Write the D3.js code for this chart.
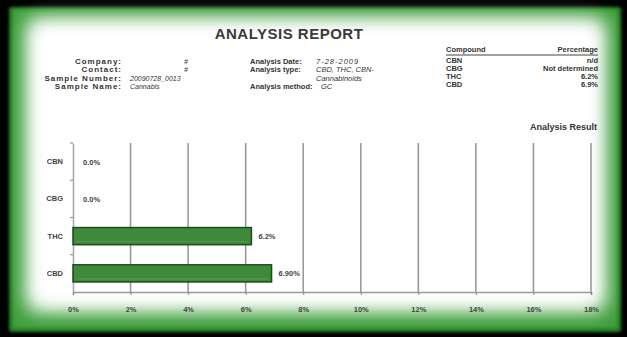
<!DOCTYPE html>
<html>
<head>
<meta charset="utf-8">
<script src="https://cdn.jsdelivr.net/npm/d3@7"></script>
<style>
  html, body { margin: 0; padding: 0; background: #000; }
  svg { display: block; }
  text { font-family: "Liberation Sans Narrow", "Arial Narrow", "Liberation Sans", Arial, sans-serif; }
</style>
</head>
<body>
<svg id="chart" width="627" height="337"></svg>
<script>
// Report data
const categories = ["CBN", "CBG", "THC", "CBD"];
const values = [0.0, 0.0, 6.2, 6.9];
const valueLabels = ["0.0%", "0.0%", "6.2%", "6.90%"];
const xTicks = [0, 2, 4, 6, 8, 10, 12, 14, 16, 18];

const infoLeftLabels = ["Company:", "Contact:", "Sample Number:", "Sample Name:"];
const infoLeftValues = ["#", "#", "20090728_0013", "Cannabis"];
const infoMidLabels = ["Analysis Date:", "Analysis type:", "", "Analysis method:"];
const infoMidValues = ["7-28-2009", "CBD, THC, CBN-", "Cannabinoids", "GC"];
const tableCompounds = ["CBN", "CBG", "THC", "CBD"];
const tablePercents = ["n/d", "Not determined", "6.2%", "6.9%"];

const svg = d3.select("#chart");
const W = 627, H = 337;

// ---- Frame: black background, glowing green border, soft white panel ----
const defs = svg.append("defs");
defs.append("filter").attr("id", "soft")
  .attr("x", "-10%").attr("y", "-10%").attr("width", "120%").attr("height", "120%")
  .append("feGaussianBlur").attr("stdDeviation", 10);
defs.append("filter").attr("id", "edge")
  .append("feGaussianBlur").attr("stdDeviation", 1.5);

svg.append("rect").attr("width", W).attr("height", H).attr("fill", "#000");
svg.append("rect")
  .attr("x", 9).attr("y", 7).attr("width", 612).attr("height", 325)
  .attr("rx", 3).attr("fill", "#268226").attr("filter", "url(#edge)");
svg.append("rect")
  .attr("x", 13).attr("y", 10).attr("width", 604).attr("height", 318)
  .attr("fill", "#3c9e3a").attr("filter", "url(#edge)");
svg.append("rect")
  .attr("x", 28).attr("y", 20).attr("width", 576).attr("height", 290)
  .attr("fill", "#fff").attr("filter", "url(#soft)");
svg.append("rect")
  .attr("x", 34).attr("y", 25).attr("width", 564).attr("height", 278)
  .attr("fill", "#fff").attr("filter", "url(#soft)");

// ---- Header ----
const textCol = "#333";
svg.append("text")
  .attr("x", 289).attr("y", 39)
  .attr("text-anchor", "middle")
  .attr("font-size", 15).attr("font-weight", "bold")
  .attr("letter-spacing", 0.5)
  .attr("fill", "#3a3a3a")
  .text("ANALYSIS REPORT");

const rowY = [64, 72, 81, 89];
const fs = 7.5;

const info = svg.append("g").attr("font-size", fs).attr("fill", textCol);
infoLeftLabels.forEach((t, i) => {
  info.append("text").attr("x", 122).attr("y", rowY[i]).attr("text-anchor", "end")
    .attr("font-size", 8).attr("letter-spacing", 1)
    .attr("font-weight", "bold").text(t);
});
infoLeftValues.forEach((t, i) => {
  const hash = t === "#";
  info.append("text").attr("x", hash ? 186 : 130).attr("y", rowY[i])
    .attr("font-size", 7)
    .attr("text-anchor", hash ? "middle" : "start").attr("font-style", "italic").text(t);
});
infoMidLabels.forEach((t, i) => {
  if (!t) return;
  info.append("text").attr("x", 250).attr("y", rowY[i])
    .attr("font-weight", "bold").text(t);
});
infoMidValues.forEach((t, i) => {
  info.append("text").attr("x", i === 3 ? 321 : 316).attr("y", rowY[i])
    .attr("letter-spacing", i === 0 ? 1 : 0)
    .attr("font-style", "italic").text(t);
});

// Results table
const table = svg.append("g").attr("font-size", fs).attr("fill", textCol);
table.append("text").attr("x", 446).attr("y", 52).attr("font-weight", "bold").text("Compound");
table.append("text").attr("x", 598).attr("y", 52).attr("text-anchor", "end")
  .attr("font-weight", "bold").text("Percentage");
table.append("line").attr("x1", 446).attr("x2", 598).attr("y1", 55).attr("y2", 55)
  .attr("stroke", "#444").attr("stroke-width", 1.2);
const tRowY = [63, 71, 79, 87];
tableCompounds.forEach((t, i) => {
  table.append("text").attr("x", 446).attr("y", tRowY[i]).attr("font-weight", "bold").text(t);
});
tablePercents.forEach((t, i) => {
  table.append("text").attr("x", 598).attr("y", tRowY[i]).attr("text-anchor", "end")
    .attr("font-weight", "bold").text(t);
});

svg.append("text")
  .attr("x", 597).attr("y", 130).attr("text-anchor", "end")
  .attr("font-size", 9).attr("font-weight", "bold").attr("fill", "#333")
  .text("Analysis Result");

// ---- Bar chart ----
const plot = { left: 73, right: 591, top: 143, bottom: 292 };

const x = d3.scaleLinear()
  .domain([0, d3.max(xTicks)])
  .range([plot.left, plot.right]);

const y = d3.scaleBand()
  .domain(categories)
  .range([plot.top, plot.bottom])
  .paddingInner(0.54)
  .paddingOuter(0.27);

// vertical gridlines
svg.append("g")
  .selectAll("line")
  .data(xTicks.filter(d => d > 0))
  .join("line")
  .attr("x1", d => x(d)).attr("x2", d => x(d))
  .attr("y1", plot.top).attr("y2", plot.bottom)
  .attr("stroke", "#9a9a9a").attr("stroke-width", 1.6);

// bottom axis
const xAxis = svg.append("g")
  .attr("transform", `translate(0,${plot.bottom})`)
  .call(d3.axisBottom(x).tickValues(xTicks).tickFormat(d => d + "%").tickSize(3).tickPadding(12));
xAxis.select(".domain").attr("stroke", "#9a9a9a").attr("stroke-width", 1.6);
xAxis.selectAll(".tick line").attr("stroke", "#888");
xAxis.selectAll("text")
  .attr("font-size", 7.5).attr("font-weight", "bold").attr("fill", "#444")
  .attr("font-family", "\"Liberation Sans Narrow\", \"Arial Narrow\", \"Liberation Sans\", sans-serif");

// left axis
const yAxis = svg.append("g")
  .attr("transform", `translate(${plot.left},0)`)
  .call(d3.axisLeft(y).tickSize(0).tickPadding(10));
yAxis.select(".domain").attr("stroke", "#aaa").attr("stroke-width", 1.6);
yAxis.selectAll("text")
  .attr("font-size", 7.5).attr("font-weight", "bold").attr("fill", "#444")
  .attr("font-family", "\"Liberation Sans Narrow\", \"Arial Narrow\", \"Liberation Sans\", sans-serif");
// small ticks at band boundaries
svg.append("g").selectAll("line")
  .data(categories)
  .join("line")
  .attr("x1", plot.left - 3).attr("x2", plot.left)
  .attr("y1", d => y(d) - y.step() * y.paddingInner() / 2)
  .attr("y2", d => y(d) - y.step() * y.paddingInner() / 2)
  .attr("stroke", "#999").attr("stroke-width", 1.2);

// bars
const bars = svg.append("g");
categories.forEach((c, i) => {
  if (values[i] <= 0) return;
  bars.append("rect")
    .attr("x", x(0)).attr("y", y(c))
    .attr("width", x(values[i]) - x(0)).attr("height", y.bandwidth())
    .attr("fill", "#3e8a3a").attr("stroke", "#1f4a1f").attr("stroke-width", 1.5);
  bars.append("line")
    .attr("x1", x(0) + 3).attr("x2", x(values[i]) - 3)
    .attr("y1", y(c) + y.bandwidth() - 3).attr("y2", y(c) + y.bandwidth() - 3)
    .attr("stroke", "#7fb27a").attr("stroke-width", 0.6).attr("opacity", 0.7);
});

// value labels
svg.append("g").selectAll("text")
  .data(categories)
  .join("text")
  .attr("x", (d, i) => x(values[i]) + (values[i] > 0 ? 7 : 10))
  .attr("y", d => y(d) + y.bandwidth() / 2 + 3)
  .attr("font-size", 7.5).attr("font-weight", "bold").attr("fill", "#444")
  .text((d, i) => valueLabels[i]);
</script>
</body>
</html>
